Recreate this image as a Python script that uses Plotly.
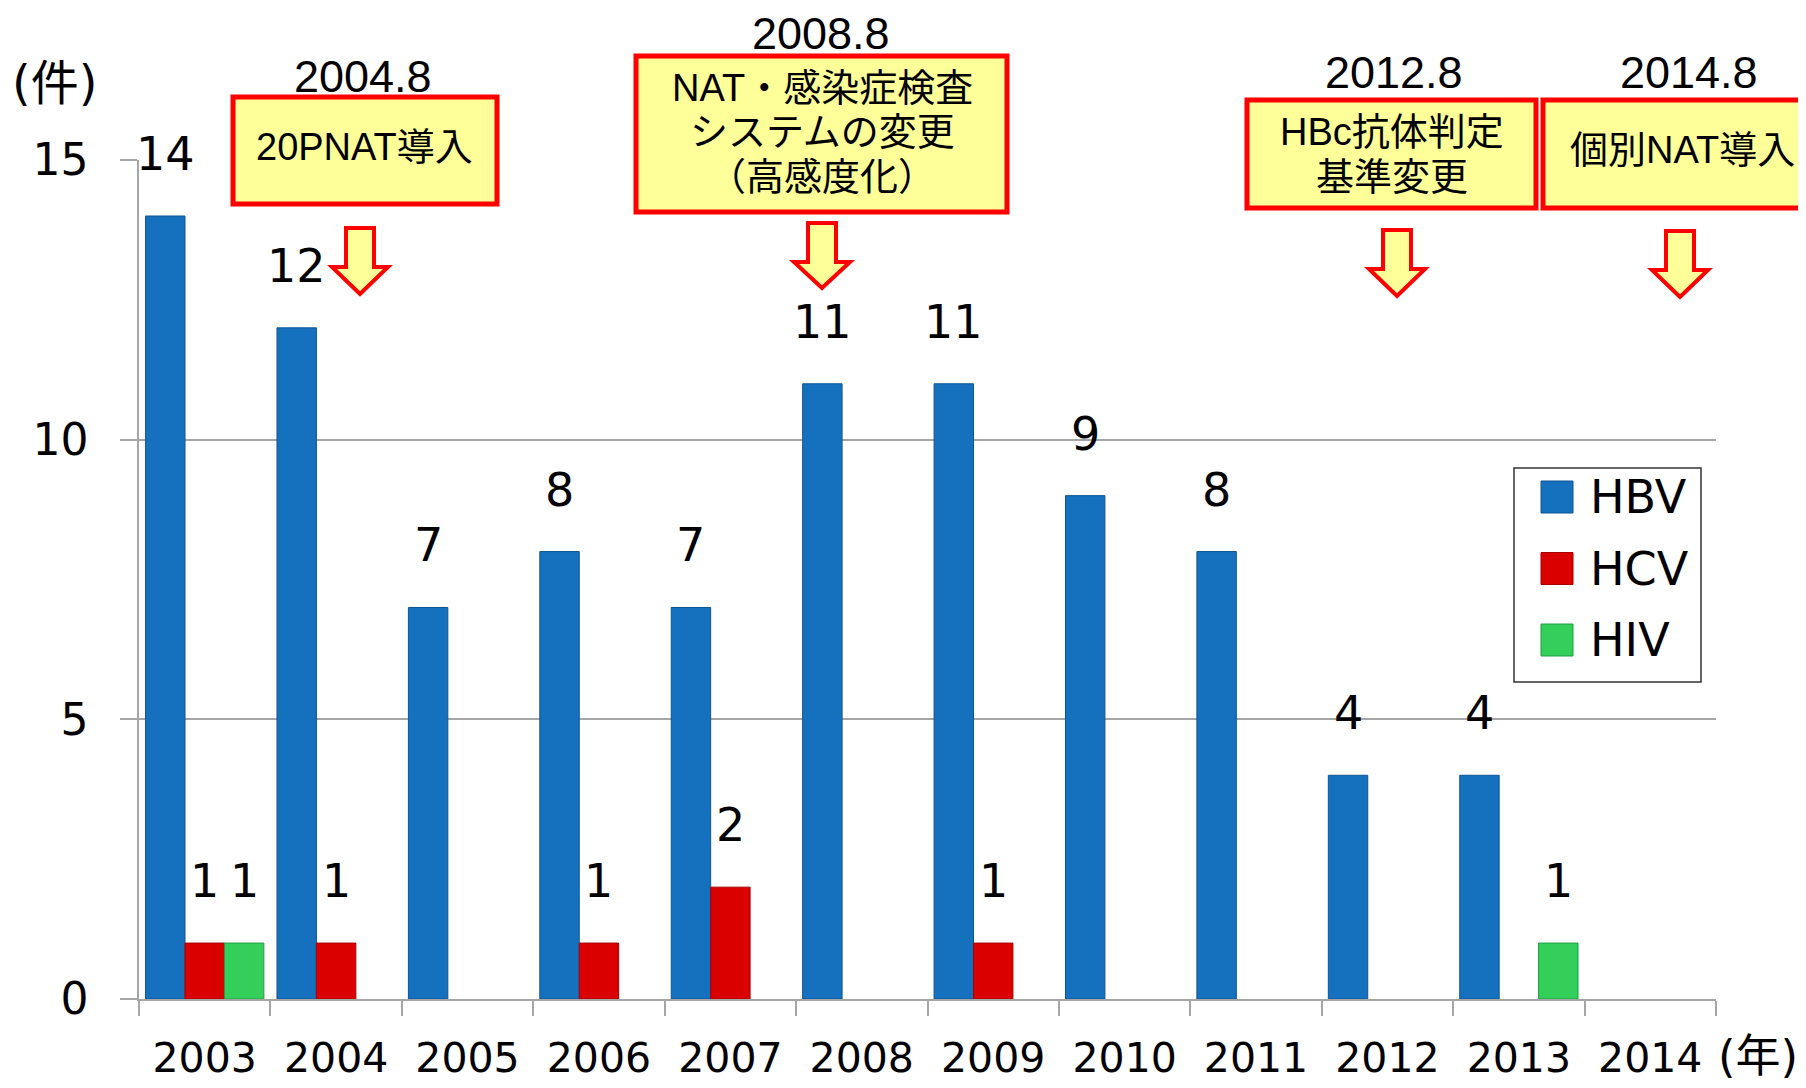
import plotly.graph_objects as go

# ---------------- data ----------------
years = ["2003", "2004", "2005", "2006", "2007", "2008", "2009",
         "2010", "2011", "2012", "2013", "2014"]
hbv = [14, 12, 7, 8, 7, 11, 11, 9, 8, 4, 4, None]
hcv = [1, 1, None, 1, 2, None, 1, None, None, None, None, None]
hiv = [1, None, None, None, None, None, None, None, None, None, 1, None]

series_names = ["HBV", "HCV", "HIV"]
series_values = [hbv, hcv, hiv]
series_colors = ["#1570BE", "#DA0000", "#33CF5A"]
series_edges = ["#0E5596", "#A80000", "#1F9E42"]

y_ticks = [0, 5, 10, 15]

event_dates = ["2004.8", "2008.8", "2012.8", "2014.8"]
event_lines = [["20PNAT導入"],
               ["NAT・感染症検査", "システムの変更", "（高感度化）"],
               ["HBc抗体判定", "基準変更"],
               ["個別NAT導入"]]

# ---------------- layout geometry (page pixels) ----------------
W, H = 1806, 1088          # browser window
OFF = 8                    # default body margin of the html page
ML, MR, MT, MB = 139, 90, 160, 89   # plot area in page pixels
PW, PH = W - ML - MR, H - MT - MB


def px(x):
    return (x - ML) / PW


def py(y):
    return (H - MB - y) / PH


# callout boxes: (x0, x1, y0, y1), date label centre, line centres x / y, arrow (cx, ytop, ybot)
boxes = [(233, 497, 97, 204), (636, 1007, 56, 212), (1247, 1536, 100, 208), (1543, 1840, 100, 208)]
date_pos = [(363, 76), (821, 33), (1394, 73), (1689, 73)]
line_x = [364, 822, 1392, 1682]
line_y = [[147], [88, 132, 177], [132, 177], [150]]
arrows = [(360, 228, 294), (822, 223, 288), (1397, 230, 296), (1680, 231, 297)]

LATIN = "DejaVu Sans, Noto Sans CJK JP, sans-serif"
BOXF = "Liberation Sans, Noto Sans CJK JP, sans-serif"

fig = go.Figure()
for name, vals, col, edge in zip(series_names, series_values, series_colors, series_edges):
    fig.add_trace(go.Bar(x=years, y=vals, name=name, showlegend=False,
                         marker=dict(color=col, line=dict(color=edge, width=1))))

annotations = []
shapes = []

# data labels
bw = (1 - 0.1) / 3
for k, vals in enumerate(series_values):
    off = (k - 1) * bw
    for i, v in enumerate(vals):
        if v:
            annotations.append(dict(x=i + off, y=v, xref="x", yref="y", text=str(v),
                                    showarrow=False, yanchor="middle", yshift=62,
                                    font=dict(family=LATIN, size=46, color="black")))

# callouts
for (x0, x1, y0, y1), (dx, dy), lx, lys, (cx, at, ab), d, lines in zip(
        boxes, date_pos, line_x, line_y, arrows, event_dates, event_lines):
    shapes.append(dict(type="rect", xref="paper", yref="paper",
                       x0=px(x0), x1=px(x1), y0=py(y1), y1=py(y0),
                       fillcolor="#FFFF99", line=dict(color="#FF0000", width=5), layer="above"))
    annotations.append(dict(x=px(dx), y=py(dy), xref="paper", yref="paper", text=d,
                            showarrow=False, xanchor="center", yanchor="middle",
                            font=dict(family=BOXF, size=45, color="black")))
    for ln, ly in zip(lines, lys):
        annotations.append(dict(x=px(lx), y=py(ly), xref="paper", yref="paper", text=ln,
                                showarrow=False, xanchor="center", yanchor="middle",
                                font=dict(family=BOXF, size=38, color="black")))
    hs, hh, hl = 14, 28, 39
    pts = [(cx - hs, at), (cx + hs, at), (cx + hs, at + hl), (cx + hh, at + hl),
           (cx, ab), (cx - hh, at + hl), (cx - hs, at + hl)]
    path = "M " + " L ".join(f"{px(a):.5f},{py(b):.5f}" for a, b in pts) + " Z"
    shapes.append(dict(type="path", xref="paper", yref="paper", path=path,
                       fillcolor="#FFFF99", line=dict(color="#FF0000", width=4), layer="above"))

# legend (drawn from the series lists)
lx0, lx1, ly0, ly1 = 1514, 1701, 468, 682
shapes.append(dict(type="rect", xref="paper", yref="paper", x0=px(lx0), x1=px(lx1),
                   y0=py(ly1), y1=py(ly0), line=dict(color="#333333", width=1.5),
                   fillcolor="white", layer="above"))
for j, (name, col, edge) in enumerate(zip(series_names, series_colors, series_edges)):
    cy = 497 + j * 71.5
    shapes.append(dict(type="rect", xref="paper", yref="paper", x0=px(1541), x1=px(1573),
                       y0=py(cy + 16), y1=py(cy - 16), fillcolor=col,
                       line=dict(color=edge, width=1), layer="above"))
    annotations.append(dict(x=px(1588), y=py(cy), xref="paper", yref="paper", text=name,
                            showarrow=False, xanchor="left", yanchor="middle",
                            font=dict(family=LATIN, size=46, color="black")))

# unit labels
annotations.append(dict(x=px(10), y=py(83), xref="paper", yref="paper", text="(件)",
                        showarrow=False, xanchor="left", yanchor="middle",
                        font=dict(family=LATIN, size=48, color="black")))
annotations.append(dict(x=px(1800), y=py(1085), xref="paper", yref="paper", text="(年)",
                        showarrow=False, xanchor="right", yanchor="bottom",
                        font=dict(family=LATIN, size=45, color="black")))

fig.update_layout(
    width=W - OFF, height=H - OFF,
    margin=dict(l=ML - OFF, r=MR, t=MT - OFF, b=MB, autoexpand=False),
    barmode="group", bargap=0.1, bargroupgap=0,
    plot_bgcolor="white", paper_bgcolor="white",
    annotations=annotations, shapes=shapes,
    xaxis=dict(type="category", categoryorder="array", categoryarray=years,
               range=[-0.5, len(years) - 0.5], showgrid=False,
               showline=True, linecolor="#A6A6A6", linewidth=1.5,
               ticks="outside", tickson="boundaries", ticklen=15, tickcolor="#A6A6A6",
               tickwidth=1.5, ticklabelstandoff=22,
               tickfont=dict(family=LATIN, size=41, color="black")),
    yaxis=dict(range=[0, 15.001], tickvals=y_ticks, showgrid=True, gridcolor="#A6A6A6",
               gridwidth=1.5, zeroline=False, showline=True, linecolor="#A6A6A6",
               linewidth=1.5, ticks="outside", ticklen=17, tickcolor="#A6A6A6",
               tickwidth=1.5, ticklabelstandoff=23,
               tickfont=dict(family=LATIN, size=44, color="black")),
)

fig.write_html("out.html")
